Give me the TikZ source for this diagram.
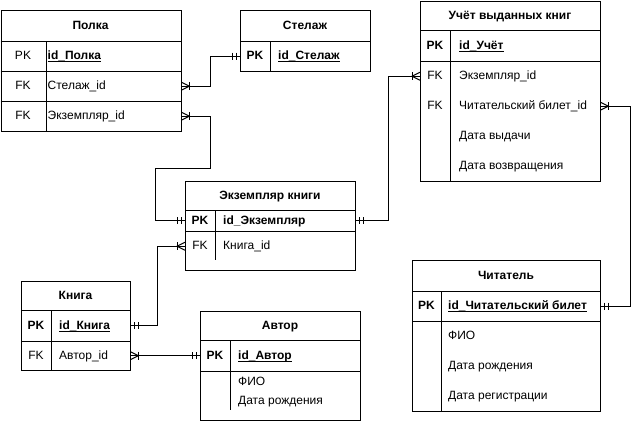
\documentclass[tikz,border=0pt]{standalone}
\usepackage{fontspec}
\setmainfont{Liberation Sans}
\newcommand\ulx[1]{\setbox0\hbox{#1}\rlap{\vrule height -1.3pt depth 2.3pt width \wd0}\box0}
\tikzset{
  tbox/.style={draw, line width=1pt, inner sep=0pt, anchor=north west},
  rowanc/.style={inner sep=0pt, draw=none, anchor=north west},
  hdr/.style={font=\fontsize{12}{14}\selectfont\bfseries, inner sep=0pt, anchor=mid, yshift=-1.3pt},
  txt/.style={font=\fontsize{12}{14}\selectfont, inner sep=0pt, anchor=mid west, yshift=-1.3pt},
  keyc/.style={font=\fontsize{12}{14}\selectfont, inner sep=0pt, anchor=mid, yshift=-1.3pt},
  keyb/.style={font=\fontsize{12}{14}\selectfont\bfseries, inner sep=0pt, anchor=mid, yshift=-1.3pt},
  sep/.style={line width=1pt},
  conn/.style={line width=1pt},
  mrk/.style={line width=1pt},
  crowfoot/.pic={\draw[mrk] (0,-4) -- (8,0) -- (0,4); \draw[mrk] (8,-4) -- (8,4);},
  doublebar/.pic={\draw[mrk] (4,-3.5) -- (4,3.5); \draw[mrk] (8,-3.5) -- (8,3.5);},
}
\begin{document}
\begin{tikzpicture}[x=1pt,y=-1pt]
\useasboundingbox (0,0) rectangle (640,421);
% ---------- Полка ----------
\node[tbox, minimum width=180pt, minimum height=121pt] (polka) at (0.5,10) {};
\draw[sep] (0.5,41) -- (180.5,41);
\draw[sep] (0.5,71) -- (180.5,71);
\draw[sep] (0.5,101) -- (180.5,101);
\draw[sep] (46,41) -- (46,131);
\node[hdr] (polka-t) at (90.5,25.5) {Полка};
\node[rowanc, minimum width=180pt, minimum height=30pt] (polka-pk) at (0.5,41) {};
\node[rowanc, minimum width=180.5pt, minimum height=30pt] (polka-st) at (0.5,71) {};
\node[rowanc, minimum width=180.5pt, minimum height=30pt] (polka-ek) at (0.5,101) {};
\node[keyc] at (23,56) {PK};
\node[txt] at (47.5,56) {\bfseries\ulx{id\_Полка}};
\node[keyc] at (23,86) {FK};
\node[txt] at (47.5,86) {Стелаж\_id};
\node[keyc] at (23,116) {FK};
\node[txt] at (47.5,116) {Экземпляр\_id};
% ---------- Стелаж ----------
\node[tbox, minimum width=130pt, minimum height=61pt] (stelaj) at (240,10) {};
\draw[sep] (240,41) -- (370,41);
\draw[sep] (270,41) -- (270,71);
\node[hdr] at (305,25.5) {Стелаж};
\node[rowanc, minimum width=130pt, minimum height=30pt] (stelaj-pk) at (240,41) {};
\node[keyb] at (255,56) {PK};
\node[txt] at (278,56) {\bfseries\ulx{id\_Стелаж}};
% ---------- Учёт выданных книг ----------
\node[tbox, minimum width=180pt, minimum height=180pt] (uchet) at (420,1) {};
\draw[sep] (420,30) -- (600,30);
\draw[sep] (420,61) -- (600,61);
\draw[sep] (450,30) -- (450,181);
\node[hdr] at (510,15.5) {Учёт выданных книг};
\node[rowanc, minimum width=180pt, minimum height=31pt] (uchet-pk) at (420,30) {};
\node[rowanc, minimum width=180pt, minimum height=30pt] (uchet-ek) at (420,61) {};
\node[rowanc, minimum width=180pt, minimum height=30pt] (uchet-ch) at (420,91) {};
\node[keyb] at (435,45.5) {PK};
\node[txt] at (459,45.5) {\bfseries\ulx{id\_Учёт}};
\node[keyc] at (435,76) {FK};
\node[txt] at (459,76) {Экземпляр\_id};
\node[keyc] at (435,106) {FK};
\node[txt] at (459,106) {Читательский билет\_id};
\node[txt] at (459,136) {Дата выдачи};
\node[txt] at (459,166) {Дата возвращения};
% ---------- Экземпляр книги ----------
\node[tbox, minimum width=170pt, minimum height=89pt] (ekz) at (185,181) {};
\draw[sep] (185,210) -- (355,210);
\draw[sep] (185,231) -- (355,231);
\draw[sep] (215,210) -- (215,260);
\node[hdr] at (270,195.5) {Экземпляр книги};
\node[rowanc, minimum width=170pt, minimum height=21pt] (ekz-pk) at (185,210) {};
\node[rowanc, minimum width=170pt, minimum height=30pt] (ekz-kn) at (185,231) {};
\node[keyb] at (200,220.5) {PK};
\node[txt] at (223,220.5) {\bfseries id\_Экземпляр};
\node[keyc] at (200,246) {FK};
\node[txt] at (223,246) {Книга\_id};
% ---------- Книга ----------
\node[tbox, minimum width=109pt, minimum height=89pt] (kniga) at (21,281) {};
\draw[sep] (21,310) -- (130,310);
\draw[sep] (21,341) -- (130,341);
\draw[sep] (51,310) -- (51,370);
\node[hdr] at (75.5,295.5) {Книга};
\node[rowanc, minimum width=109pt, minimum height=31pt] (kniga-pk) at (21,310) {};
\node[rowanc, minimum width=109pt, minimum height=29pt] (kniga-av) at (21,341) {};
\node[keyb] at (36,325.5) {PK};
\node[txt] at (59,325.5) {\bfseries\ulx{id\_Книга}};
\node[keyc] at (36,355.5) {FK};
\node[txt] at (59,355.5) {Автор\_id};
% ---------- Автор ----------
\node[tbox, minimum width=160pt, minimum height=109pt] (avtor) at (200,311) {};
\draw[sep] (200,340) -- (360,340);
\draw[sep] (200,371) -- (360,371);
\draw[sep] (230,340) -- (230,410);
\node[hdr] at (280,325.5) {Автор};
\node[rowanc, minimum width=160pt, minimum height=31pt] (avtor-pk) at (200,340) {};
\node[keyb] at (215,355.5) {PK};
\node[txt] at (238,355.5) {\bfseries\ulx{id\_Автор}};
\node[txt] at (238,382) {ФИО};
\node[txt] at (238,400.5) {Дата рождения};
% ---------- Читатель ----------
\node[tbox, minimum width=188pt, minimum height=151pt] (chit) at (412,260) {};
\draw[sep] (412,291) -- (600,291);
\draw[sep] (412,321) -- (600,321);
\draw[sep] (441,291) -- (441,411);
\node[hdr] at (506,275.5) {Читатель};
\node[rowanc, minimum width=188pt, minimum height=30pt] (chit-pk) at (412,291) {};
\node[keyb] at (426.5,306) {PK};
\node[txt] at (448,306) {\bfseries\ulx{id\_Читательский билет}};
\node[txt] at (448,336) {ФИО};
\node[txt] at (448,366) {Дата рождения};
\node[txt] at (448,396) {Дата регистрации};
% ---------- connectors ----------
\coordinate (bend1) at (155,168);
\draw[conn] (polka-st.east) -- ++(29,0) |- (stelaj-pk.west);
\pic at (polka-st.east) {crowfoot};
\pic[xscale=-1] at (stelaj-pk.west) {doublebar};
\draw[conn] (polka-ek.east) -- ++(29.5,0) |- (bend1) |- (ekz-pk.west);
\pic at (polka-ek.east) {crowfoot};
\pic[xscale=-1] at (ekz-pk.west) {doublebar};
\draw[conn] (ekz-pk.east) -- ++(33,0) |- (uchet-ek.west);
\pic at (ekz-pk.east) {doublebar};
\pic[xscale=-1] at (uchet-ek.west) {crowfoot};
\draw[conn] (kniga-pk.east) -- ++(27,0) |- (ekz-kn.west);
\pic at (kniga-pk.east) {doublebar};
\pic[xscale=-1] at (ekz-kn.west) {crowfoot};
\draw[conn] (kniga-av.east) -- (avtor-pk.west);
\pic at (kniga-av.east) {crowfoot};
\pic[xscale=-1] at (avtor-pk.west) {doublebar};
\draw[conn] (uchet-ch.east) -- ++(30,0) |- (chit-pk.east);
\pic at (uchet-ch.east) {crowfoot};
\pic at (chit-pk.east) {doublebar};
\end{tikzpicture}
\end{document}
